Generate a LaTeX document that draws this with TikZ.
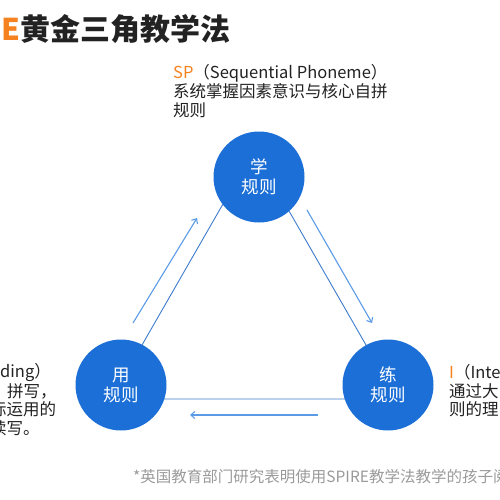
\documentclass[tikz,border=0pt]{standalone}
\usepackage{fontspec}
\setmainfont{Noto Sans CJK SC}
\usetikzlibrary{arrows.meta}
\definecolor{circblue}{HTML}{1B6FD6}
\definecolor{linblue}{HTML}{3D7BCB}
\definecolor{arrblue}{HTML}{5B9BE6}
\definecolor{orng}{HTML}{F5821F}
\definecolor{txt}{HTML}{222222}
\definecolor{foot}{HTML}{9A9A9A}
\begin{document}
\begin{tikzpicture}[x=1pt,y=-1pt,
 rulecirc/.style={circle,fill=circblue,minimum size=91pt,inner sep=0pt,text=white,font=\fontsize{17.5}{20}\selectfont,align=center},
 edge/.style={draw=linblue,line width=0.9pt},
 flow/.style={draw=arrblue,line width=1.1pt,-{Straight Barb[length=4pt,width=7pt]}},
 lbl/.style={anchor=west,inner sep=0pt,text=txt,font=\fontsize{16.5}{18.5}\selectfont}]
\useasboundingbox (0,0) rectangle (500,500);
\clip (0,0) rectangle (500,500);
% title
\node[anchor=west,inner sep=0pt,text=txt,font=\fontsize{30}{34}\selectfont\bfseries] (title) at (1,29) {{\color{orng}E}黄金三角教学法};
% triangle
\coordinate (t) at (254,150);
\coordinate (l) at (111,399);
\coordinate (r) at (397,399);
\draw[edge] (t) -- (l) -- (r) -- cycle;
% circles
\node[rulecirc] (learn) at (259,177) {学\\规则};
\node[rulecirc] (use) at (121,385) {用\\规则};
\node[rulecirc] (practice) at (388,385) {练\\规则};
% arrows
\coordinate (a1s) at (133,323);
\coordinate (a1e) at (197,218);
\coordinate (a2s) at (307,210);
\coordinate (a2e) at (372,323);
\coordinate (a3s) at (318,415);
\coordinate (a3e) at (190,415);
\draw[flow] (a1s) -- (a1e);
\draw[flow] (a2s) -- (a2e);
\draw[flow] (a3s) -- (a3e);
% SP label
\node[lbl] (sp1) at (173,73) {{\color{orng}SP}（Sequential Phoneme）};
\node[lbl] (sp2) at (173,91.5) {系统掌握因素意识与核心自拼};
\node[lbl] (sp3) at (173,110) {规则};
% left label
\node[lbl] (le1) at (0,372) {ding）};
\node[lbl] (le2) at (7,391) {拼写，};
\node[lbl] (le3) at (-10,409) {际运用的};
\node[lbl] (le4) at (-10,428) {读写。};
% right label
\node[lbl] (ri1) at (449,372) {{\color{orng}I}（Inte};
\node[lbl] (ri2) at (449,391) {通过大};
\node[lbl] (ri3) at (449,409) {则的理};
% footnote
\node[anchor=west,inner sep=0pt,text=foot,font=\fontsize{15.5}{18}\selectfont] (note) at (133,477) {*英国教育部门研究表明使用SPIRE教学法教学的孩子阅};
\end{tikzpicture}
\end{document}
